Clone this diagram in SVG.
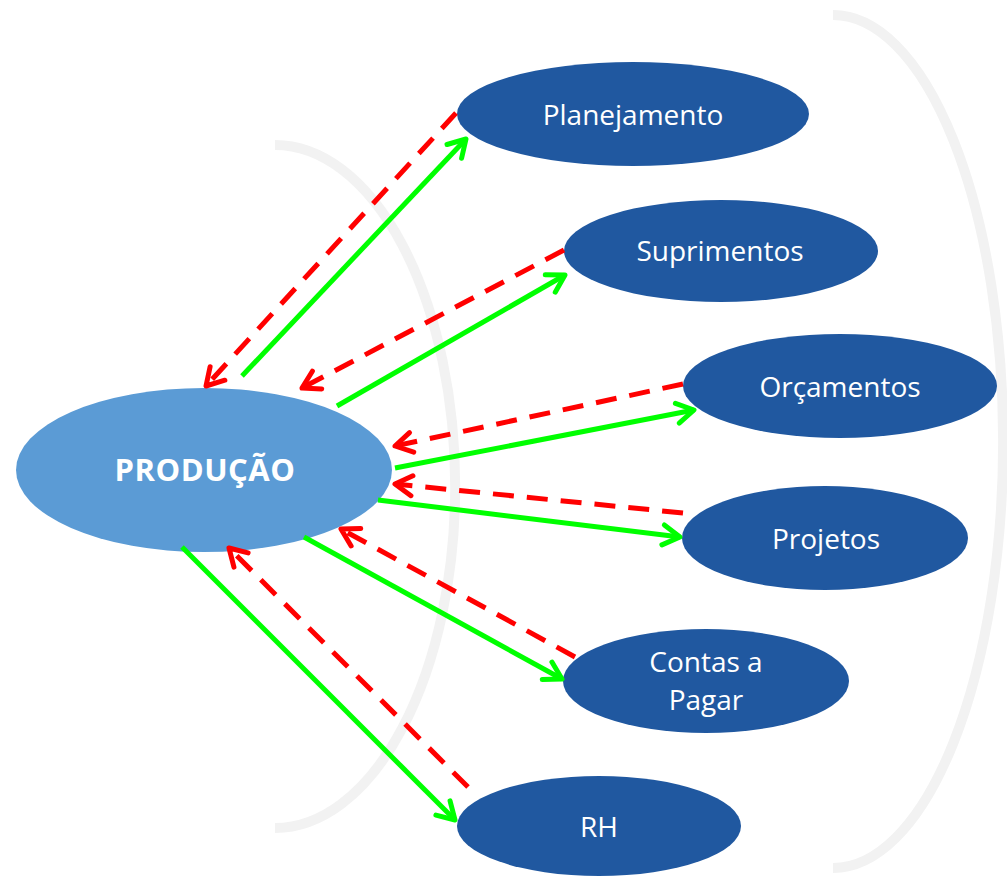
<svg xmlns="http://www.w3.org/2000/svg" width="1007" height="883" viewBox="0 0 1007 883">
<defs>
<style>
.arc{fill:none;stroke:#f2f2f2;stroke-width:10}
.node{fill:#2058a0}
.main{fill:#5b9bd5}
.lbl{font-family:"Open Sans","Liberation Sans",sans-serif;font-size:28px;fill:#ffffff;text-anchor:middle}
.big{font-weight:bold;font-size:31px;letter-spacing:0.5px}
.g{stroke:#00ff00;stroke-width:5;fill:none;marker-end:url(#ag)}
.r{stroke:#ff0000;stroke-width:5;fill:none;stroke-dasharray:21 13;marker-end:url(#ar)}
</style>
<marker id="ag" markerUnits="userSpaceOnUse" viewBox="-24 -16 28 32" markerWidth="28" markerHeight="32" refX="0" refY="0" orient="auto">
<path d="M-17,-10 L0,0 L-17,10" fill="none" stroke="#00ff00" stroke-width="5" stroke-linecap="round" stroke-linejoin="round"/>
</marker>
<marker id="ar" markerUnits="userSpaceOnUse" viewBox="-24 -16 28 32" markerWidth="28" markerHeight="32" refX="0" refY="0" orient="auto">
<path d="M-17,-10 L0,0 L-17,10" fill="none" stroke="#ff0000" stroke-width="5" stroke-linecap="round" stroke-linejoin="round"/>
</marker>
</defs>
<rect width="1007" height="883" fill="#ffffff"/>
<g id="arcs">
<path class="arc" d="M275,145 A180,341 0 0 1 275,828"/>
<path class="arc" d="M833,15 A170,426 0 0 1 833,868"/>
</g>
<g id="n-producao">
<ellipse class="main" cx="204" cy="470" rx="188" ry="82"/>
<text class="lbl big" x="205" y="481">PRODUÇÃO</text>
</g>
<g id="n-planejamento">
<ellipse class="node" cx="633" cy="114" rx="176" ry="52"/>
<text class="lbl" x="633" y="125">Planejamento</text>
</g>
<g id="n-suprimentos">
<ellipse class="node" cx="721" cy="251" rx="157" ry="51"/>
<text class="lbl" x="720" y="261">Suprimentos</text>
</g>
<g id="n-orcamentos">
<ellipse class="node" cx="840" cy="386" rx="157" ry="52"/>
<text class="lbl" x="840" y="397">Orçamentos</text>
</g>
<g id="n-projetos">
<ellipse class="node" cx="825" cy="538" rx="143" ry="52"/>
<text class="lbl" x="826" y="549">Projetos</text>
</g>
<g id="n-contas">
<ellipse class="node" cx="706" cy="681" rx="143" ry="52"/>
<text class="lbl" x="706" y="672">Contas a</text>
<text class="lbl" x="706" y="710">Pagar</text>
</g>
<g id="n-rh">
<ellipse class="node" cx="599" cy="826" rx="142" ry="50"/>
<text class="lbl" x="599" y="837">RH</text>
</g>
<g id="connectors">
<line class="g" x1="242" y1="376" x2="466" y2="139"/>
<line class="g" x1="337" y1="406" x2="565" y2="275"/>
<line class="g" x1="395" y1="468" x2="694" y2="410"/>
<line class="g" x1="378" y1="500" x2="680" y2="537"/>
<line class="g" x1="304" y1="537" x2="562" y2="679"/>
<line class="g" x1="182" y1="547" x2="455" y2="820"/>
<line class="r" x1="456" y1="113" x2="206" y2="386"/>
<line class="r" x1="564" y1="250" x2="302" y2="388"/>
<line class="r" x1="683" y1="384" x2="395" y2="446"/>
<line class="r" x1="683" y1="513" x2="395" y2="484"/>
<line class="r" x1="575" y1="657" x2="341" y2="529"/>
<line class="r" x1="468" y1="787" x2="229" y2="548"/>
</g>
</svg>
